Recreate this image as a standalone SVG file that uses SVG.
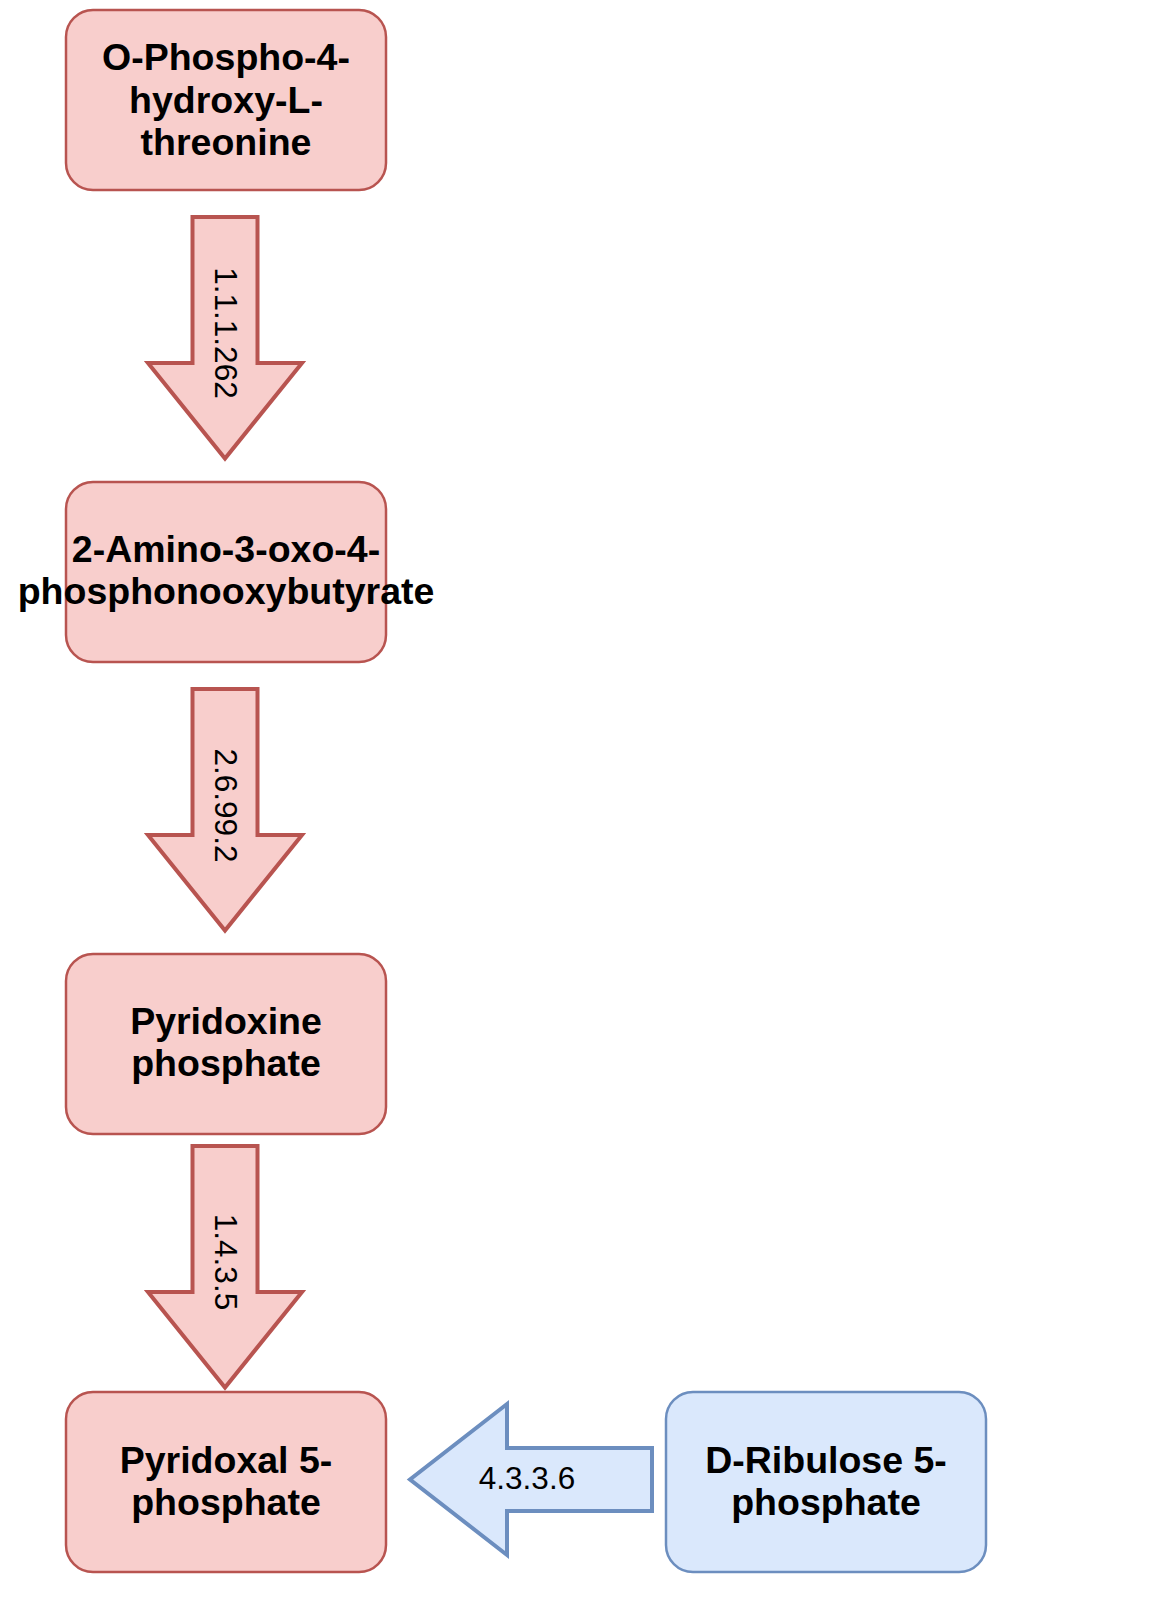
<svg xmlns="http://www.w3.org/2000/svg" width="1154" height="1612" viewBox="0 0 1154 1612">
<style>
.red{fill:#f8cecc;stroke:#b85450;stroke-width:2.5}
.blue{fill:#dae8fc;stroke:#6c8ebf;stroke-width:2.5}
.ar{fill:#f8cecc;stroke:#b85450;stroke-width:4;stroke-linejoin:miter}
.ab{fill:#dae8fc;stroke:#6c8ebf;stroke-width:4;stroke-linejoin:miter}
.t{font-family:"Liberation Sans",Arial,sans-serif;font-weight:bold;font-size:37.5px;fill:#000;text-anchor:middle}
.l{font-family:"Liberation Sans",Arial,sans-serif;font-size:31.5px;fill:#000;text-anchor:middle}
</style>
<rect width="1154" height="1612" fill="#ffffff"/>
<g id="connectors">
  <g id="e1">
    <polygon class="ar" points="192.5,217 257.5,217 257.5,363 302,363 225,458.5 148,363 192.5,363"/>
    <text class="l" x="226" y="344" transform="rotate(90 226 333)">1.1.1.262</text>
  </g>
  <g id="e2">
    <polygon class="ar" points="192.5,689 257.5,689 257.5,835 302,835 225,930.5 148,835 192.5,835"/>
    <text class="l" x="226" y="816.5" transform="rotate(90 226 805.5)">2.6.99.2</text>
  </g>
  <g id="e3">
    <polygon class="ar" points="192.5,1146 257.5,1146 257.5,1292 302,1292 225,1387.5 148,1292 192.5,1292"/>
    <text class="l" x="226" y="1273" transform="rotate(90 226 1262)">1.4.3.5</text>
  </g>
  <g id="e4">
    <polygon class="ab" points="652,1448 652,1511 507,1511 507,1555 410,1479.5 507,1404 507,1448"/>
    <text class="l" x="527" y="1488.5">4.3.3.6</text>
  </g>
</g>
<g id="n1">
  <rect class="red" x="66" y="10" width="320" height="180" rx="27" ry="27"/>
  <text class="t" x="226" y="70">O-Phospho-4-</text>
  <text class="t" x="226" y="112.5">hydroxy-L-</text>
  <text class="t" x="226" y="155">threonine</text>
</g>
<g id="n2">
  <rect class="red" x="66" y="482" width="320" height="180" rx="27" ry="27"/>
  <text class="t" x="226" y="562">2-Amino-3-oxo-4-</text>
  <text class="t" x="226" y="604">phosphonooxybutyrate</text>
</g>
<g id="n3">
  <rect class="red" x="66" y="954" width="320" height="180" rx="27" ry="27"/>
  <text class="t" x="226" y="1034">Pyridoxine</text>
  <text class="t" x="226" y="1076">phosphate</text>
</g>
<g id="n4">
  <rect class="red" x="66" y="1392" width="320" height="180" rx="27" ry="27"/>
  <text class="t" x="226" y="1472.5">Pyridoxal 5-</text>
  <text class="t" x="226" y="1514.5">phosphate</text>
</g>
<g id="n5">
  <rect class="blue" x="666" y="1392" width="320" height="180" rx="27" ry="27"/>
  <text class="t" x="826" y="1472.5">D-Ribulose 5-</text>
  <text class="t" x="826" y="1514.5">phosphate</text>
</g>
</svg>
